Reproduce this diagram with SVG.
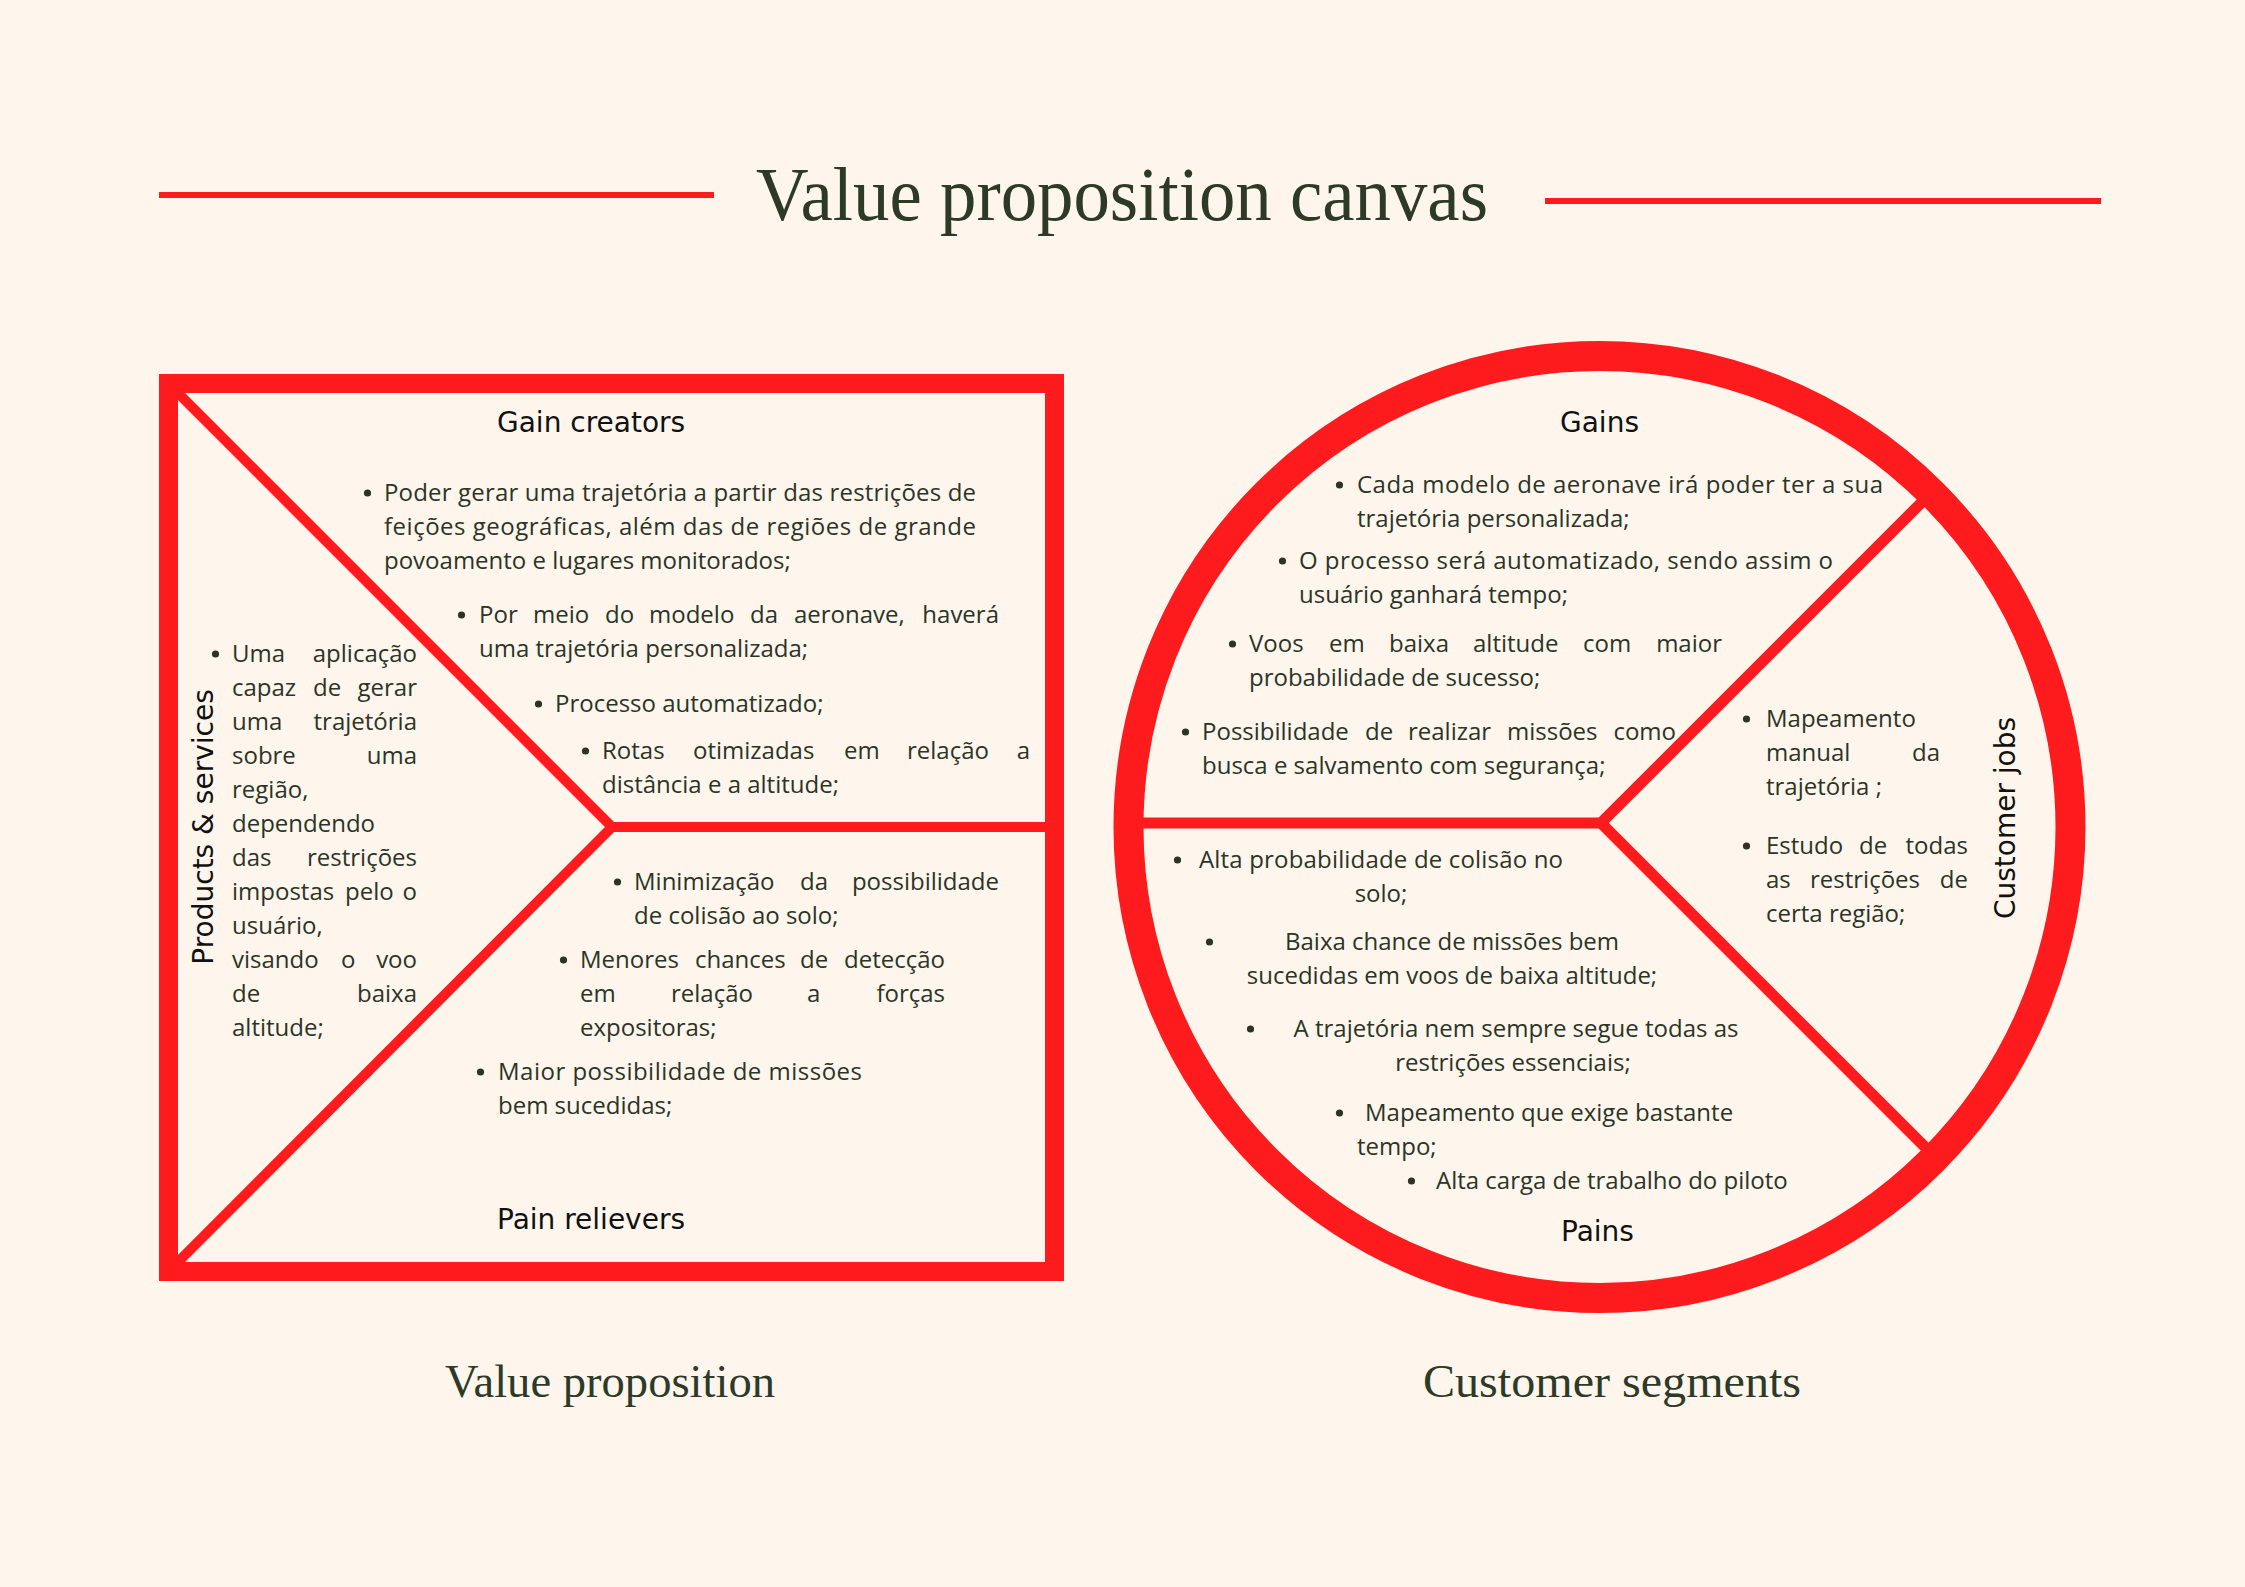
<svg xmlns="http://www.w3.org/2000/svg" width="2245" height="1587" viewBox="0 0 2245 1587">
<style>
.bg{fill:#fef6ec}
.red{stroke:#fe1b1e;fill:none}
.body{font-family:"Open Sans","Liberation Sans",sans-serif;font-size:24px;fill:#2b3427}
.dot{fill:#2b3427}
.end{text-anchor:end}
.head{font-family:"DejaVu Sans","Liberation Sans",sans-serif;font-size:28px;fill:#111}
.serif{font-family:"Liberation Serif",serif;fill:#2e3a28}
</style>
<defs>
  <circle id="b" r="3.6"/>
</defs>
<rect class="bg" x="0" y="0" width="2245" height="1587"/>

<g id="title">
  <line class="red" x1="159" y1="195" x2="714" y2="195" stroke-width="6"/>
  <line class="red" x1="1545" y1="201" x2="2101" y2="201" stroke-width="6"/>
  <text class="serif" x="756" y="220" font-size="76" textLength="732" lengthAdjust="spacingAndGlyphs">Value proposition canvas</text>
</g>

<g id="value-proposition-frame">
  <rect class="red" x="168.5" y="383.5" width="886" height="888" stroke-width="19"/>
  <polyline class="red" points="176,391 612,827 176,1264" stroke-width="10" stroke-linejoin="miter"/>
  <line class="red" x1="612" y1="827" x2="1047" y2="827" stroke-width="10"/>
</g>

<g id="gain-creators">
  <text class="head" x="497" y="432">Gain creators</text>
  <use href="#b" class="dot" x="367.5" y="493"/>
  <text class="body" x="384" y="501" textLength="592" lengthAdjust="spacing">Poder gerar uma trajetória a partir das restrições de</text>
  <text class="body" x="384" y="535" textLength="592" lengthAdjust="spacing">feições geográficas, além das de regiões de grande</text>
  <text class="body" x="384" y="569">povoamento e lugares monitorados;</text>
  <use href="#b" class="dot" x="461.5" y="615"/>
  <text class="body" y="623"><tspan x="479">Por</tspan><tspan x="533">meio</tspan><tspan x="605">do</tspan><tspan x="649">modelo</tspan><tspan x="750">da</tspan><tspan x="794">aeronave,</tspan></text>
  <text class="body end" x="999" y="623">haverá</text>
  <text class="body" x="479" y="657">uma trajetória personalizada;</text>
  <use href="#b" class="dot" x="538.5" y="704"/>
  <text class="body" x="555" y="712">Processo automatizado;</text>
  <use href="#b" class="dot" x="585.5" y="751"/>
  <text class="body" y="759"><tspan x="602">Rotas</tspan><tspan x="693">otimizadas</tspan><tspan x="844">em</tspan><tspan x="907">relação</tspan></text>
  <text class="body end" x="1030" y="759">a</text>
  <text class="body" x="602" y="793">distância e a altitude;</text>
</g>

<g id="products-services">
  <text class="head" transform="translate(213,827) rotate(-90)" text-anchor="middle">Products &amp; services</text>
  <use href="#b" class="dot" x="215.5" y="654"/>
  <text class="body" x="232" y="662">Uma</text><text class="body end" x="417" y="662">aplicação</text>
  <text class="body" y="696"><tspan x="232">capaz</tspan><tspan x="313">de</tspan></text><text class="body end" x="417" y="696">gerar</text>
  <text class="body" x="232" y="730">uma</text><text class="body end" x="417" y="730">trajetória</text>
  <text class="body" x="232" y="764">sobre</text><text class="body end" x="417" y="764">uma</text>
  <text class="body" x="232" y="798">região,</text>
  <text class="body" x="232" y="832">dependendo</text>
  <text class="body" x="232" y="866">das</text><text class="body end" x="417" y="866">restrições</text>
  <text class="body" y="900"><tspan x="232">impostas</tspan><tspan x="345">pelo</tspan></text><text class="body end" x="417" y="900">o</text>
  <text class="body" x="232" y="934">usuário,</text>
  <text class="body" y="968"><tspan x="232">visando</tspan><tspan x="341">o</tspan></text><text class="body end" x="417" y="968">voo</text>
  <text class="body" x="232" y="1002">de</text><text class="body end" x="417" y="1002">baixa</text>
  <text class="body" x="232" y="1036">altitude;</text>
</g>

<g id="pain-relievers">
  <use href="#b" class="dot" x="617.5" y="882"/>
  <text class="body" y="890"><tspan x="634">Minimização</tspan><tspan x="800">da</tspan></text><text class="body end" x="999" y="890">possibilidade</text>
  <text class="body" x="634" y="924">de colisão ao solo;</text>
  <use href="#b" class="dot" x="563.5" y="960"/>
  <text class="body" y="968"><tspan x="580">Menores</tspan><tspan x="695">chances</tspan><tspan x="800">de</tspan></text><text class="body end" x="945" y="968">detecção</text>
  <text class="body" y="1002"><tspan x="580">em</tspan><tspan x="671">relação</tspan><tspan x="807">a</tspan></text><text class="body end" x="945" y="1002">forças</text>
  <text class="body" x="580" y="1036">expositoras;</text>
  <use href="#b" class="dot" x="480.5" y="1072"/>
  <text class="body" x="498" y="1080" textLength="364" lengthAdjust="spacing">Maior possibilidade de missões</text>
  <text class="body" x="498" y="1114">bem sucedidas;</text>
  <text class="head" x="497" y="1229">Pain relievers</text>
</g>

<g id="customer-profile-frame">
  <polyline class="red" points="1120,823 1601,823 1941,483" stroke-width="11" stroke-linejoin="miter"/>
  <line class="red" x1="1601" y1="823" x2="1941" y2="1163" stroke-width="11"/>
  <circle class="red" cx="1599.5" cy="827" r="471" stroke-width="30"/>
</g>

<g id="gains">
  <text class="head" x="1560" y="432">Gains</text>
  <use href="#b" class="dot" x="1339.5" y="485"/>
  <text class="body" x="1357" y="493" textLength="526" lengthAdjust="spacing">Cada modelo de aeronave irá poder ter a sua</text>
  <text class="body" x="1357" y="527">trajetória personalizada;</text>
  <use href="#b" class="dot" x="1282.5" y="561"/>
  <text class="body" x="1299" y="569" textLength="534" lengthAdjust="spacing">O processo será automatizado, sendo assim o</text>
  <text class="body" x="1299" y="603">usuário ganhará tempo;</text>
  <use href="#b" class="dot" x="1232.5" y="644"/>
  <text class="body" y="652"><tspan x="1249">Voos</tspan><tspan x="1329">em</tspan><tspan x="1389">baixa</tspan><tspan x="1473">altitude</tspan><tspan x="1583">com</tspan></text><text class="body end" x="1722" y="652">maior</text>
  <text class="body" x="1249" y="686">probabilidade de sucesso;</text>
  <use href="#b" class="dot" x="1185.5" y="732"/>
  <text class="body" y="740"><tspan x="1202">Possibilidade</tspan><tspan x="1365">de</tspan><tspan x="1408">realizar</tspan><tspan x="1507">missões</tspan></text><text class="body end" x="1676" y="740">como</text>
  <text class="body" x="1202" y="774">busca e salvamento com segurança;</text>
</g>

<g id="customer-jobs">
  <text class="head" transform="translate(2015,818) rotate(-90)" text-anchor="middle">Customer jobs</text>
  <use href="#b" class="dot" x="1746.5" y="719"/>
  <text class="body" x="1766" y="727">Mapeamento</text>
  <text class="body" x="1766" y="761">manual</text><text class="body end" x="1940" y="761">da</text>
  <text class="body" x="1766" y="795">trajetória ;</text>
  <use href="#b" class="dot" x="1746.5" y="846"/>
  <text class="body" y="854"><tspan x="1766">Estudo</tspan><tspan x="1859">de</tspan></text><text class="body end" x="1968" y="854">todas</text>
  <text class="body" y="888"><tspan x="1766">as</tspan><tspan x="1810">restrições</tspan></text><text class="body end" x="1968" y="888">de</text>
  <text class="body" x="1766" y="922">certa região;</text>
</g>

<g id="pains">
  <use href="#b" class="dot" x="1177.5" y="860"/>
  <text class="body" x="1199" y="868" textLength="364" lengthAdjust="spacing">Alta probabilidade de colisão no</text>
  <text class="body" x="1381" y="902" text-anchor="middle">solo;</text>
  <use href="#b" class="dot" x="1209.5" y="942"/>
  <text class="body" x="1452" y="950" text-anchor="middle">Baixa chance de missões bem</text>
  <text class="body" x="1452" y="984" text-anchor="middle">sucedidas em voos de baixa altitude;</text>
  <use href="#b" class="dot" x="1250.5" y="1029"/>
  <text class="body" x="1516" y="1037" text-anchor="middle">A trajetória nem sempre segue todas as</text>
  <text class="body" x="1513" y="1071" text-anchor="middle">restrições essenciais;</text>
  <use href="#b" class="dot" x="1339.5" y="1113"/>
  <text class="body" x="1365" y="1121">Mapeamento que exige bastante</text>
  <text class="body" x="1357" y="1155">tempo;</text>
  <use href="#b" class="dot" x="1411.5" y="1181"/>
  <text class="body" x="1436" y="1189">Alta carga de trabalho do piloto</text>
  <text class="head" x="1561" y="1241">Pains</text>
</g>

<g id="section-labels">
  <text class="serif" x="445" y="1397" font-size="47" textLength="330" lengthAdjust="spacingAndGlyphs">Value proposition</text>
  <text class="serif" x="1423" y="1397" font-size="47" textLength="378" lengthAdjust="spacingAndGlyphs">Customer segments</text>
</g>

<g id="connectors"></g>
</svg>
